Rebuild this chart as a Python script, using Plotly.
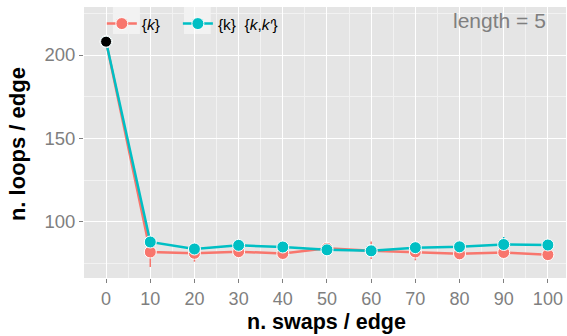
import plotly.graph_objects as go

swaps = [0, 10, 20, 30, 40, 50, 60, 70, 80, 90, 100]
loops_k = [208, 81.8, 81.0, 82.0, 80.9, 84.0, 82.6, 81.8, 80.7, 81.5, 80.2]
err_k_up = [0, 6, 2.5, 2.5, 2, 1.5, 5.5, 2.5, 1.5, 2, 1.5]
err_k_dn = [0, 9, 5, 3, 2, 1.5, 5, 5, 1.5, 2, 1.5]
loops_kk = [208, 87.8, 83.6, 85.8, 84.8, 83.1, 82.5, 84.4, 84.9, 86.3, 86.0]
err_kk_up = [0, 1.5, 3, 1.5, 1.5, 1, 1, 2.5, 2, 4.5, 1.5]
err_kk_dn = [0, 1.5, 3, 1.5, 1.5, 1, 1, 1.5, 1.5, 1.5, 1.5]
start_x = [0]
start_y = [208]

x_ticks = [0, 10, 20, 30, 40, 50, 60, 70, 80, 90, 100]
y_ticks = [100, 150, 200]

RED = "#F8766D"
CYAN = "#00BFC4"
GREY_TXT = "#7F7F7F"
FONT = "Liberation Sans, Arial, sans-serif"

fig = go.Figure()

def add_series(yv, up, dn, color, name):
    fig.add_trace(go.Scatter(
        x=swaps, y=yv, mode="lines+markers", name=name,
        line=dict(color=color, width=2.5),
        marker=dict(color=color, size=12, line=dict(color="white", width=1)),
        error_y=dict(type="data", symmetric=False, array=up, arrayminus=dn,
                     color=color, thickness=1.5, width=0),
    ))

add_series(loops_k, err_k_up, err_k_dn, RED, "{<i>k</i>}&nbsp;&nbsp;&nbsp;")
add_series(loops_kk, err_kk_up, err_kk_dn, CYAN, "{k}  {<i>k</i>,<i>k′</i>}")

fig.add_trace(go.Scatter(
    x=start_x, y=start_y, mode="markers", showlegend=False,
    marker=dict(color="black", size=11, line=dict(color="white", width=1)),
))

# legend key backgrounds (ggplot style)
for x0, x1 in [(0.060, 0.116), (0.2075, 0.263)]:
    fig.add_shape(type="rect", xref="paper", yref="paper",
                  x0=x0, x1=x1, y0=1 - 27 / 271, y1=1.0,
                  fillcolor="#F2F2F2", line=dict(width=0), layer="below")

fig.add_annotation(
    xref="paper", yref="paper", x=0.963, y=0.952, xanchor="right", yanchor="middle",
    text="length = 5", showarrow=False,
    font=dict(family=FONT, size=21, color=GREY_TXT),
)

# axis titles
fig.add_annotation(
    xref="paper", yref="paper", x=0.503, y=-0.162, xanchor="center", yanchor="middle",
    text="<b>n. swaps / edge</b>", showarrow=False,
    font=dict(family=FONT, size=21.5, color="black"),
)
fig.add_annotation(
    xref="paper", yref="paper", x=-0.138, y=0.496, xanchor="center", yanchor="middle",
    text="<b>n. loops / edge</b>", showarrow=False, textangle=-90,
    font=dict(family=FONT, size=22, color="black"),
)

fig.update_layout(
    width=567, height=336,
    margin=dict(l=84, r=1, t=7, b=58),
    paper_bgcolor="white",
    plot_bgcolor="#E5E5E5",
    font=dict(family=FONT),
    legend=dict(
        orientation="h", x=0.037, y=1.0, xanchor="left", yanchor="top",
        bgcolor="rgba(0,0,0,0)", font=dict(family=FONT, size=15.5, color="black"),
        itemwidth=30, tracegroupgap=0,
    ),
    xaxis=dict(
        range=[-5, 104.1], tickvals=x_ticks, ticktext=[str(v) for v in x_ticks],
        showgrid=True, gridcolor="white", gridwidth=1.2,
        minor=dict(tickvals=[5, 15, 25, 35, 45, 55, 65, 75, 85, 95],
                   showgrid=True, gridcolor="#F2F2F2", gridwidth=0.6),
        zeroline=False, showline=False,
        ticks="outside", ticklen=4, tickcolor=GREY_TXT, tickwidth=1,
        tickfont=dict(family=FONT, size=18, color=GREY_TXT),
    ),
    yaxis=dict(
        range=[66.2, 228.8], tickvals=y_ticks, ticktext=[str(v) for v in y_ticks],
        showgrid=True, gridcolor="white", gridwidth=1.2,
        minor=dict(tickvals=[75, 125, 175, 225],
                   showgrid=True, gridcolor="#F2F2F2", gridwidth=0.6),
        zeroline=False, showline=False,
        ticks="outside", ticklen=4, tickcolor=GREY_TXT, tickwidth=1,
        tickfont=dict(family=FONT, size=18.5, color=GREY_TXT),
    ),
)

fig.write_html("out.html", config={"displayModeBar": False},
               post_script="document.body.style.margin='0';")
